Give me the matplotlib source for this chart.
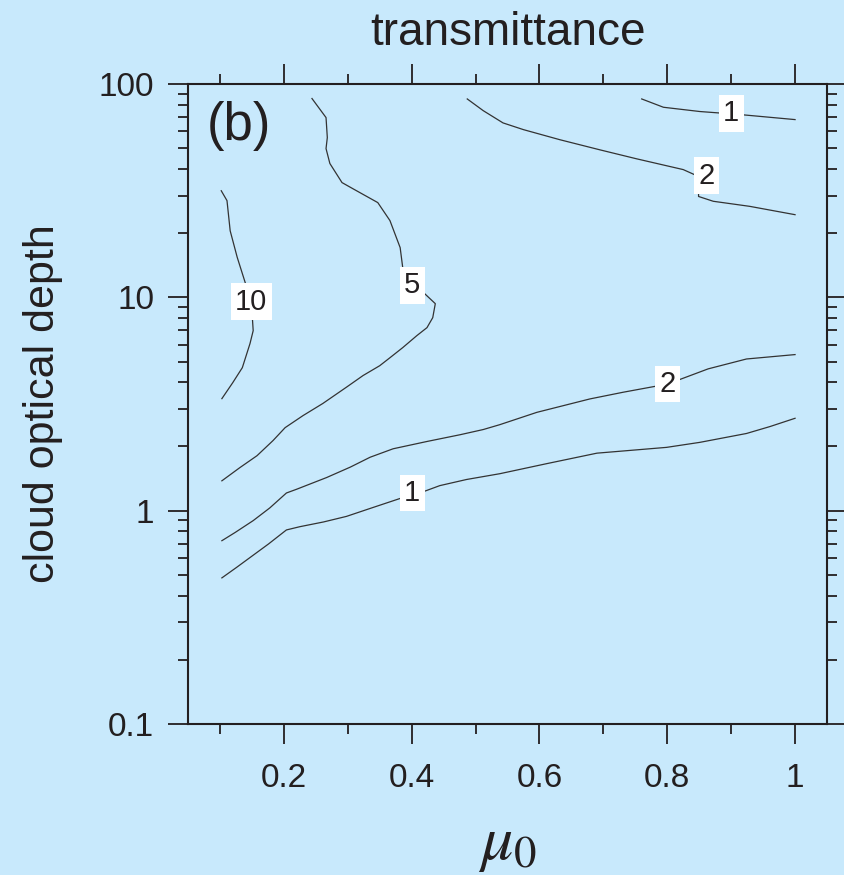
import matplotlib
matplotlib.use('Agg')
import matplotlib.pyplot as plt
import numpy as np
from matplotlib.ticker import FixedLocator, NullFormatter, FormatStrFormatter

plt.rcParams['font.family'] = ['Liberation Sans', 'DejaVu Sans']
plt.rcParams['mathtext.fontset'] = 'stix'

bg = '#C8E9FC'
ink = '#231f20'

# contour lines: (mu0, cloud optical depth)
c10_mu = [0.102, 0.111, 0.116, 0.127, 0.142, 0.150, 0.152, 0.147, 0.135, 0.120, 0.103]
c10_tau = [31.6, 28.4, 20.5, 15.4, 11.1, 8.66, 6.98, 6.07, 4.68, 3.98, 3.35]

c5_mu = [0.244, 0.266, 0.268, 0.266, 0.272, 0.291, 0.308, 0.347, 0.366, 0.382, 0.386,
         0.401, 0.416, 0.437, 0.433, 0.424, 0.408, 0.386, 0.366, 0.350, 0.324, 0.299,
         0.261, 0.230, 0.202, 0.183, 0.158, 0.131, 0.103]
c5_tau = [85.5, 69.6, 56.1, 49.8, 42.4, 34.5, 32.3, 27.8, 22.9, 17.1, 13.8,
          11.3, 10.7, 9.34, 8.03, 7.21, 6.61, 5.81, 5.21, 4.78, 4.30, 3.81,
          3.18, 2.79, 2.45, 2.13, 1.81, 1.59, 1.38]

c2lo_mu = [0.103, 0.124, 0.152, 0.178, 0.204, 0.220, 0.267, 0.304, 0.335, 0.371, 0.424,
           0.476, 0.512, 0.538, 0.596, 0.679, 0.731, 0.786, 0.815, 0.864, 0.924, 1.0]
c2lo_tau = [0.723, 0.791, 0.898, 1.03, 1.21, 1.26, 1.43, 1.60, 1.78, 1.95, 2.11,
            2.27, 2.40, 2.53, 2.89, 3.34, 3.59, 3.85, 4.07, 4.62, 5.14, 5.39]

c1lo_mu = [0.103, 0.126, 0.176, 0.204, 0.225, 0.262, 0.298, 0.340, 0.387, 0.416, 0.444,
           0.486, 0.538, 0.611, 0.690, 0.799, 0.851, 0.924, 0.961, 1.0]
c1lo_tau = [0.484, 0.542, 0.698, 0.812, 0.841, 0.885, 0.940, 1.036, 1.154, 1.22, 1.31,
            1.40, 1.49, 1.66, 1.86, 1.98, 2.09, 2.30, 2.48, 2.71]

c2hi_mu = [0.487, 0.512, 0.543, 0.575, 0.632, 0.695, 0.752, 0.825, 0.846, 0.849, 0.849,
           0.872, 0.929, 1.0]
c2hi_tau = [85.1, 75.0, 65.7, 61.1, 54.8, 49.1, 44.6, 39.7, 37.2, 33.4, 29.7,
            28.2, 26.7, 24.4]

c1hi_mu = [0.760, 0.794, 0.851, 0.888, 0.914, 1.0]
c1hi_tau = [85.1, 77.8, 74.3, 72.9, 71.9, 68.1]

# contour labels
lab_text = ['10', '5', '2', '1', '2', '1']
lab_mu = [0.149, 0.401, 0.800, 0.401, 0.862, 0.900]
lab_tau = [9.53, 11.4, 3.92, 1.21, 37.2, 72.9]

xticks_major = [0.2, 0.4, 0.6, 0.8, 1.0]
xtick_labels = ['0.2', '0.4', '0.6', '0.8', '1']
xticks_minor = [0.1, 0.3, 0.5, 0.7, 0.9]
yticks_major = [0.1, 1, 10, 100]
ytick_labels = ['0.1', '1', '10', '100']

fig = plt.figure(figsize=(8.45, 8.75), dpi=100, facecolor=bg)
ax = fig.add_axes([0.2225, 0.1726, 0.7562, 0.7314], facecolor=bg)

lines = [(c10_mu, c10_tau), (c5_mu, c5_tau), (c2lo_mu, c2lo_tau),
         (c1lo_mu, c1lo_tau), (c2hi_mu, c2hi_tau), (c1hi_mu, c1hi_tau)]
for xs, ys in lines:
    ax.plot(xs, ys, color='#333333', lw=0.9, zorder=2)

for t, x, y in zip(lab_text, lab_mu, lab_tau):
    ax.text(x, y, t, fontsize=21, color=ink, ha='center', va='center', zorder=3,
            bbox=dict(boxstyle='square,pad=0.15', fc='white', ec='none'))

ax.set_yscale('log')
ax.set_xlim(0.05, 1.05)
ax.set_ylim(0.1, 100)

ax.xaxis.set_major_locator(FixedLocator(xticks_major))
ax.xaxis.set_minor_locator(FixedLocator(xticks_minor))
ax.set_xticklabels(xtick_labels)
ax.yaxis.set_major_locator(FixedLocator(yticks_major))
ax.set_yticklabels(ytick_labels)
ax.yaxis.set_minor_locator(matplotlib.ticker.LogLocator(base=10, subs=np.arange(2, 10)))
ax.yaxis.set_minor_formatter(NullFormatter())

ax.tick_params(which='both', direction='out', top=True, right=True, color=ink,
               width=1.3, labelsize=24, labelcolor=ink)
ax.tick_params(which='major', length=14.4)
ax.tick_params(which='minor', length=7.2)
ax.tick_params(axis='x', which='major', pad=14)
ax.tick_params(axis='y', which='major', pad=10)

for s in ax.spines.values():
    s.set_color(ink)
    s.set_linewidth(1.5)

ax.set_title('transmittance', fontsize=33, color=ink, pad=28)
ax.set_ylabel('cloud optical depth', fontsize=31, color=ink, labelpad=26)
ax.set_xlabel(r'$\mu_0$', fontsize=46, color=ink, labelpad=14)
ax.text(0.03, 0.935, '(b)', transform=ax.transAxes, fontsize=38, color=ink,
        ha='left', va='center')

plt.savefig('out.png', dpi=100, facecolor=bg)
